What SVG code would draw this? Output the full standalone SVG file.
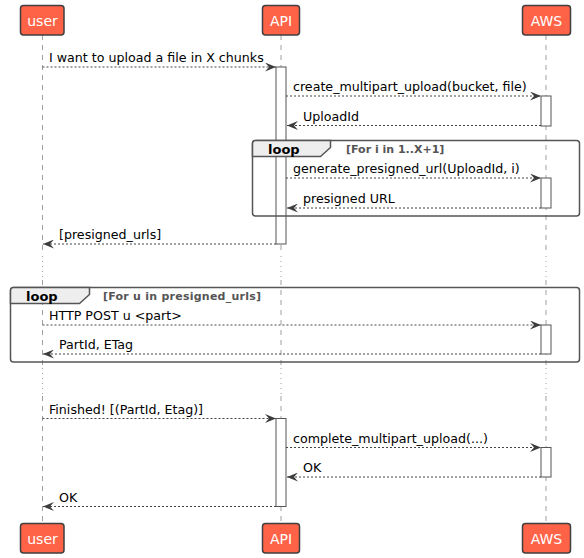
<svg xmlns="http://www.w3.org/2000/svg" width="584" height="558" viewBox="0 0 584 558">
<style>
.bg{fill:#ffffff}
.life{stroke:#a0a0a0;stroke-width:1;stroke-dasharray:5,5;fill:none}
.dot{stroke:#a0a0a0;stroke-width:1;stroke-dasharray:1,4;fill:none}
.part rect{fill:#ff6347;stroke:#3f3f3f;stroke-width:1.5}
.part text{fill:#ffffff;font-family:"DejaVu Sans",sans-serif;font-size:14px;text-anchor:middle}
.act{fill:#ffffff;stroke:#555555;stroke-width:1}
.msg{stroke:#454545;stroke-width:1;stroke-dasharray:2,2;fill:none}
.lbl{fill:#000000;font-family:"DejaVu Sans",sans-serif;font-size:12.65px}
.frame{fill:none;stroke:#555555;stroke-width:1.5}
.tab{fill:#eeeeee;stroke:#555555;stroke-width:1.5}
.kw{fill:#000000;font-family:"DejaVu Sans",sans-serif;font-size:13px;font-weight:bold}
.cond{fill:#555555;font-family:"DejaVu Sans",sans-serif;font-size:11px;font-weight:bold}
</style>
<defs>
<marker id="ah" viewBox="0 0 11 9" refX="11" refY="4.5" markerWidth="11" markerHeight="9" markerUnits="userSpaceOnUse" orient="auto-start-reverse">
<path d="M0,0 L11,4.5 L0,9 L4,4.5 Z" fill="#3c3c3c"/>
</marker>
</defs>
<rect class="bg" x="0" y="0" width="584" height="558"/>

<g id="lifelines">
<path class="life" d="M42.5,35 V254 M42.5,280 V366 M42.5,396 V523"/>
<path class="dot" d="M42.5,256 V280 M42.5,368 V396"/>
<path class="life" d="M281,35 V254 M281,280 V366 M281,396 V523"/>
<path class="dot" d="M281,256 V280 M281,368 V396"/>
<path class="life" d="M546,35 V254 M546,280 V366 M546,396 V523"/>
<path class="dot" d="M546,256 V280 M546,368 V396"/>
</g>

<g id="activations">
<rect class="act" x="276" y="67" width="10" height="177"/>
<rect class="act" x="541" y="96" width="10" height="30"/>
<rect class="act" x="541" y="178" width="10" height="30"/>
<rect class="act" x="541" y="325" width="10" height="29"/>
<rect class="act" x="276" y="418.5" width="10" height="88"/>
<rect class="act" x="541" y="447.5" width="10" height="29.5"/>
</g>

<g id="frames">
<g id="loop1">
<rect class="frame" x="252.5" y="140.5" width="327" height="75.5" rx="3"/>
<path class="tab" d="M252.5,156.5 V143.5 Q252.5,140.5 255.5,140.5 H330.5 V147.5 L320.5,156.5 Z"/>
<text class="kw" x="268" y="154">loop</text>
<text class="cond" x="346" y="153">[For i in 1..X+1]</text>
</g>
<g id="loop2">
<rect class="frame" x="10.5" y="287.5" width="569" height="74.5" rx="3"/>
<path class="tab" d="M10.5,303.5 V290.5 Q10.5,287.5 13.5,287.5 H89.5 V294.5 L79.5,303.5 Z"/>
<text class="kw" x="26" y="301">loop</text>
<text class="cond" x="103" y="300" textLength="158" lengthAdjust="spacing">[For u in presigned_urls]</text>
</g>
</g>

<g id="connectors">
<line class="msg" x1="42.5" y1="67" x2="276" y2="67" marker-end="url(#ah)"/>
<text class="lbl" x="49" y="62">I want to upload a file in X chunks</text>

<line class="msg" x1="286" y1="96" x2="541" y2="96" marker-end="url(#ah)"/>
<text class="lbl" x="293" y="91">create_multipart_upload(bucket, file)</text>

<line class="msg" x1="541" y1="125.5" x2="287" y2="125.5" marker-end="url(#ah)"/>
<text class="lbl" x="303" y="120.5">UploadId</text>

<line class="msg" x1="286" y1="178" x2="541" y2="178" marker-end="url(#ah)"/>
<text class="lbl" x="293" y="173">generate_presigned_url(UploadId, i)</text>

<line class="msg" x1="541" y1="208" x2="287" y2="208" marker-end="url(#ah)"/>
<text class="lbl" x="303" y="203">presigned URL</text>

<line class="msg" x1="276" y1="244" x2="43" y2="244" marker-end="url(#ah)"/>
<text class="lbl" x="59" y="239">[presigned_urls]</text>

<line class="msg" x1="42.5" y1="325" x2="541" y2="325" marker-end="url(#ah)"/>
<text class="lbl" x="49" y="320">HTTP POST u &lt;part&gt;</text>

<line class="msg" x1="541" y1="354" x2="43" y2="354" marker-end="url(#ah)"/>
<text class="lbl" x="59" y="349">PartId, ETag</text>

<line class="msg" x1="42.5" y1="418.5" x2="276" y2="418.5" marker-end="url(#ah)"/>
<text class="lbl" x="49" y="413.5">Finished! [(PartId, Etag)]</text>

<line class="msg" x1="286" y1="447.5" x2="541" y2="447.5" marker-end="url(#ah)"/>
<text class="lbl" x="293" y="442.5">complete_multipart_upload(...)</text>

<line class="msg" x1="541" y1="477" x2="287" y2="477" marker-end="url(#ah)"/>
<text class="lbl" x="303" y="472">OK</text>

<line class="msg" x1="276" y1="506.5" x2="43" y2="506.5" marker-end="url(#ah)"/>
<text class="lbl" x="59" y="501.5">OK</text>
</g>

<g id="user" class="part">
<rect x="20.5" y="5.5" width="43.5" height="29.5" rx="3"/>
<text x="42.5" y="25.5">user</text>
<rect x="20.5" y="523.5" width="43.5" height="29.5" rx="3"/>
<text x="42.5" y="543.5">user</text>
</g>
<g id="API" class="part">
<rect x="262.5" y="5.5" width="37" height="29.5" rx="3"/>
<text x="281" y="25.5">API</text>
<rect x="262.5" y="523.5" width="37" height="29.5" rx="3"/>
<text x="281" y="543.5">API</text>
</g>
<g id="AWS" class="part">
<rect x="522.5" y="5.5" width="48" height="29.5" rx="3"/>
<text x="546.5" y="25.5">AWS</text>
<rect x="522.5" y="523.5" width="48" height="29.5" rx="3"/>
<text x="546.5" y="543.5">AWS</text>
</g>
</svg>
